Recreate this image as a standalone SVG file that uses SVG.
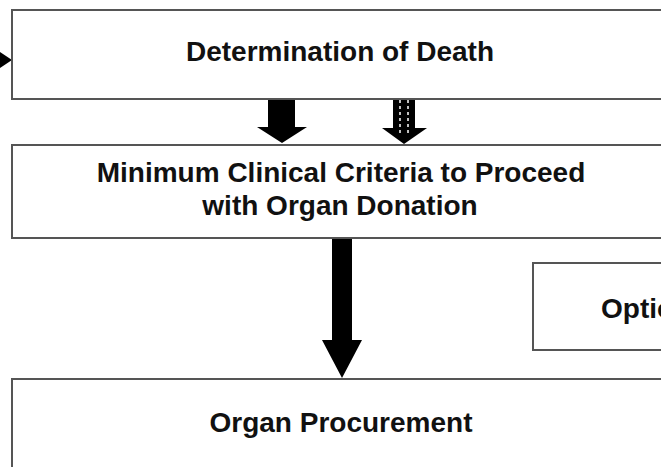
<svg xmlns="http://www.w3.org/2000/svg" width="661" height="467" viewBox="0 0 661 467">
<style>
.box{fill:#fff;stroke:#555;stroke-width:2}
.t{font-family:"Liberation Sans",Arial,sans-serif;font-weight:bold;font-size:28px;fill:#111;text-anchor:middle}
.arr{fill:#000}
</style>
<rect width="661" height="467" fill="#fff"/>
<g id="connectors">
<path class="arr" d="M0,52 L12,60 L0,68 Z"/>
<path class="arr" d="M268,99 H295 V127 H307 L282,143 L257,127 H268 Z"/>
<path class="arr" d="M393,99 H415 V128 H427 L404,144 L382,128 H393 Z"/>
<line x1="400" y1="100" x2="400" y2="134" stroke="#fff" stroke-width="1.5" stroke-dasharray="3,3"/>
<line x1="408" y1="100" x2="408" y2="134" stroke="#fff" stroke-width="1.5" stroke-dasharray="3,3"/>
<path class="arr" d="M332,238 H352 V340 H362 L342,378 L322,340 H332 Z"/>
</g>
<g id="death">
<rect class="box" x="12" y="10" width="670" height="89"/>
<text class="t" x="340" y="61">Determination of Death</text>
</g>
<g id="criteria">
<rect class="box" x="12" y="145" width="670" height="93"/>
<text class="t" x="341" y="182">Minimum Clinical Criteria to Proceed</text>
<text class="t" x="340" y="215">with Organ Donation</text>
</g>
<g id="options">
<rect class="box" x="533" y="263" width="150" height="87"/>
<text class="t" x="601" y="318" style="text-anchor:start">Optio</text>
</g>
<g id="procurement">
<rect class="box" x="12" y="379" width="670" height="100"/>
<text class="t" x="341" y="432">Organ Procurement</text>
</g>
</svg>
